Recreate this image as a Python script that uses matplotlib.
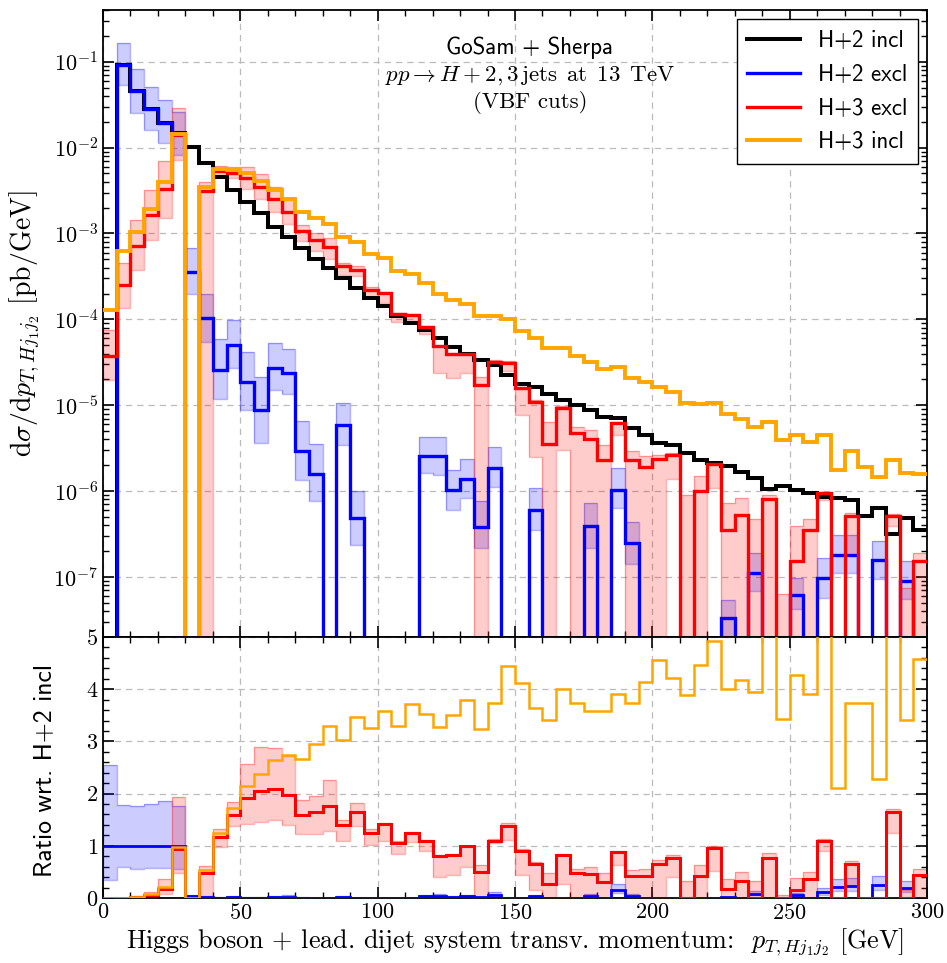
import numpy as np
import matplotlib
matplotlib.use("Agg")
import matplotlib.pyplot as plt
from matplotlib.ticker import MultipleLocator, LogLocator, NullFormatter

plt.rcParams['mathtext.fontset'] = 'cm'
plt.rcParams['font.family'] = 'serif'
plt.rcParams['font.serif'] = ['cmr10']
plt.rcParams['axes.unicode_minus'] = False
plt.rcParams['axes.formatter.use_mathtext'] = True

# 5 GeV bins from 0 to 300 GeV
edges = np.arange(0, 305, 5)

# H+2 inclusive (reference)
h2_incl = [0, 0.0914, 0.046, 0.0282, 0.0192, 0.0148, 0.0102, 6.6e-3, 4.6e-3, 3.2e-3,
           2.33e-3, 1.71e-3, 1.2e-3, 9.1e-4, 6.7e-4, 5.1e-4, 3.95e-4, 3.0e-4, 2.31e-4, 1.77e-4,
           1.44e-4, 1.1e-4, 9.0e-5, 7.5e-5, 6.0e-5, 4.8e-5, 4.0e-5, 3.4e-5, 2.94e-5, 2.25e-5,
           1.76e-5, 1.65e-5, 1.35e-5, 1.15e-5, 1.0e-5, 8.8e-6, 7.3e-6, 7.1e-6, 5.5e-6, 4.5e-6,
           3.6e-6, 3.4e-6, 2.75e-6, 2.33e-6, 2.15e-6, 1.97e-6, 1.65e-6, 1.42e-6, 1.06e-6, 1.14e-6,
           1.04e-6, 9.5e-7, 8.6e-7, 8.4e-7, 7.9e-7, 5.15e-7, 6.4e-7, 3.15e-7, 4.8e-7, 3.5e-7]

# H+2 exclusive with scale band
h2_excl = [0, 0.0914, 0.046, 0.0282, 0.0192, 0.0148, 3.6e-4, 1.03e-4, 2.58e-5, 5.0e-5,
           1.88e-5, 8.8e-6, 2.74e-5, 2.4e-5, 2.9e-6, 1.59e-6, 0, 5.9e-6, 4.85e-7, 0,
           0, 0, 0, 2.58e-6, 2.53e-6, 1.02e-6, 1.38e-6, 3.8e-7, 1.85e-6, 0,
           0, 6.1e-7, 0, 0, 0, 3.9e-7, 0, 1.04e-6, 2.5e-7, 0,
           0, 0, 0, 0, 0, 3.3e-8, 0, 1.11e-7, 0, 0,
           6.2e-8, 0, 9.7e-8, 1.82e-7, 1.82e-7, 0, 1.56e-7, 0, 9.1e-8, 0]
h2_excl_lo = [0, 0.0536, 0.0255, 0.016, 0.0112, 0.0082, 2.0e-4, 5.5e-5, 1.17e-5, 2.7e-5,
              8.8e-6, 3.6e-6, 1.5e-5, 1.35e-5, 1.36e-6, 7.6e-7, 0, 3.46e-6, 2.38e-7, 0,
              0, 0, 0, 1.62e-6, 1.55e-6, 6.1e-7, 8.3e-7, 2.17e-7, 1.13e-6, 0,
              0, 3.55e-7, 0, 0, 0, 2.17e-7, 0, 6.3e-7, 1.43e-7, 0,
              0, 0, 0, 0, 0, 0, 0, 6.8e-8, 0, 0,
              4.2e-8, 0, 5.7e-8, 1.11e-7, 1.11e-7, 0, 9.5e-8, 0, 5.5e-8, 0]
h2_excl_hi = [0, 0.163, 0.0815, 0.051, 0.0358, 0.0262, 6.8e-4, 2.0e-4, 5.85e-5, 9.8e-5,
              4.2e-5, 2.15e-5, 5.3e-5, 4.5e-5, 6.6e-6, 3.55e-6, 0, 1.05e-5, 9.9e-7, 0,
              0, 0, 0, 4.3e-6, 4.3e-6, 1.77e-6, 2.35e-6, 7.6e-7, 3.3e-6, 0,
              0, 1.08e-6, 0, 0, 0, 7.2e-7, 0, 1.85e-6, 4.4e-7, 0,
              0, 0, 0, 0, 0, 5.4e-8, 0, 1.9e-7, 0, 0,
              9.7e-8, 0, 1.66e-7, 3.1e-7, 3.1e-7, 0, 2.64e-7, 0, 1.52e-7, 0]
# ratio of the exclusive sample in the first (empty reference) bin
h2_excl_ratio_bin0 = [1.0, 0.34, 2.55]

# H+3 exclusive with scale band
h3_excl = [3.7e-5, 2.5e-4, 7.1e-4, 1.63e-3, 3.3e-3, 0.0139, 0, 3.1e-3, 5.4e-3, 5.1e-3,
           4.45e-3, 3.5e-3, 2.5e-3, 1.8e-3, 1.07e-3, 8.4e-4, 7.0e-4, 4.2e-4, 3.8e-4, 2.2e-4,
           2.03e-4, 1.16e-4, 1.12e-4, 8.2e-5, 4.85e-5, 4.0e-5, 3.95e-5, 1.72e-5, 3.2e-5, 3.1e-5,
           1.58e-5, 1.08e-5, 3.5e-6, 9.4e-6, 4.7e-6, 4.0e-6, 2.3e-6, 6.2e-6, 2.3e-6, 1.9e-6,
           2.35e-6, 2.6e-6, 0, 9.9e-7, 2.08e-6, 3.5e-7, 5.3e-7, 0, 8.1e-7, 0,
           1.55e-7, 3.5e-7, 9.4e-7, 0, 5.2e-7, 0, 0, 5.2e-7, 0, 1.55e-7]
h3_excl_lo = [1.97e-5, 1.35e-4, 3.8e-4, 8.5e-4, 1.5e-3, 7.2e-3, 0, 0, 4.5e-3, 4.4e-3,
              3.3e-3, 2.5e-3, 1.8e-3, 1.28e-3, 8.2e-4, 6.3e-4, 5.1e-4, 3.3e-4, 3.2e-4, 1.8e-4,
              1.56e-4, 9.3e-5, 9.6e-5, 6.8e-5, 2.4e-5, 2.1e-5, 2.4e-5, 0, 3.1e-5, 2.5e-5,
              7.7e-6, 2.5e-6, 0, 3.0e-6, 0, 0, 0, 4.5e-6, 0, 0,
              0, 1.4e-6, 0, 0, 1.1e-6, 0, 0, 0, 0, 0,
              0, 0, 7.8e-7, 0, 1.8e-7, 0, 0, 3.9e-7, 0, 0]
h3_excl_hi = [7.5e-5, 4.5e-4, 1.44e-3, 3.2e-3, 7.0e-3, 0.0286, 0, 4.0e-3, 6.1e-3, 5.9e-3,
              6.0e-3, 4.96e-3, 3.46e-3, 2.48e-3, 1.26e-3, 1.0e-3, 8.9e-4, 4.5e-4, 4.2e-4, 2.35e-4,
              2.07e-4, 1.2e-4, 1.14e-4, 8.4e-5, 4.95e-5, 4.05e-5, 4.0e-5, 2.15e-5, 3.35e-5, 3.25e-5,
              1.65e-5, 1.15e-5, 6.45e-6, 9.8e-6, 5.65e-6, 5.2e-6, 3.46e-6, 6.45e-6, 2.9e-6, 2.53e-6,
              2.64e-6, 2.8e-6, 9.1e-7, 1.48e-6, 2.15e-6, 7.2e-7, 8.3e-7, 4.7e-7, 9.1e-7, 6.3e-8,
              3.9e-7, 4.7e-7, 9.8e-7, 0, 5.6e-7, 0, 0, 5.4e-7, 7.5e-8, 1.92e-7]

# H+3 inclusive
h3_incl = [1.3e-4, 6.3e-4, 1.03e-3, 1.95e-3, 4.0e-3, 0.0145, 0, 3.5e-3, 5.7e-3, 5.5e-3,
           5.0e-3, 4.05e-3, 3.18e-3, 2.5e-3, 1.79e-3, 1.5e-3, 1.3e-3, 9.1e-4, 8.0e-4, 5.75e-4,
           5.15e-4, 3.63e-4, 3.35e-4, 2.64e-4, 1.97e-4, 1.68e-4, 1.52e-4, 1.1e-4, 1.1e-4, 1.0e-4,
           7.25e-5, 6.0e-5, 4.6e-5, 4.6e-5, 3.73e-5, 3.15e-5, 2.62e-5, 2.78e-5, 2.05e-5, 1.86e-5,
           1.64e-5, 1.43e-5, 1.07e-5, 1.04e-5, 1.06e-5, 7.9e-6, 6.9e-6, 5.6e-6, 6.45e-6, 3.9e-6,
           4.45e-6, 3.72e-6, 4.5e-6, 1.77e-6, 2.95e-6, 1.92e-6, 1.46e-6, 2.28e-6, 1.64e-6, 1.6e-6]

labels = ['H+2 incl', 'H+2 excl', 'H+3 excl', 'H+3 incl']
c_black, c_blue, c_red, c_orange = 'black', '#0000ff', '#ff0000', '#ffa500'

ref = np.array(h2_incl)


def ratio(vals):
    vals = np.asarray(vals, dtype=float)
    out = np.zeros_like(vals)
    np.divide(vals, ref, out=out, where=ref > 0)
    return out


def floor(vals):
    # keep zeros drawable on the log axis
    return np.clip(np.asarray(vals, dtype=float), 1e-12, None)


def band(ax, lo, hi, color, alpha=0.2):
    ax.stairs(hi, edges, baseline=lo, fill=True, facecolor=color, alpha=alpha,
              edgecolor='none', zorder=2)
    ax.stairs(hi, edges, baseline=lo, fill=False, color=color, alpha=0.3,
              lw=1.0, zorder=2)


fig = plt.figure(figsize=(9.47, 9.63), dpi=100)
ax = fig.add_axes([0.1088, 0.3385, 0.8701, 0.6511])
rax = fig.add_axes([0.1088, 0.0675, 0.8701, 0.2710], sharex=ax)

# upper panel: differential cross sections
ax.set_yscale('log')
band(ax, floor(h2_excl_lo), floor(h2_excl_hi), c_blue)
band(ax, floor(h3_excl_lo), floor(h3_excl_hi), c_red)
ax.stairs(floor(h2_incl), edges, baseline=None, color=c_black, lw=2.9, zorder=3, label=labels[0])
ax.stairs(floor(h2_excl), edges, baseline=None, color=c_blue, lw=2.4, zorder=4, label=labels[1])
ax.stairs(floor(h3_excl), edges, baseline=None, color=c_red, lw=2.4, zorder=5, label=labels[2])
ax.stairs(floor(h3_incl), edges, baseline=None, color=c_orange, lw=2.8, zorder=6, label=labels[3])

ax.set_xlim(0, 300)
ax.set_ylim(2e-8, 0.4)
ax.yaxis.set_major_locator(LogLocator(base=10, numticks=12))
ax.yaxis.set_minor_locator(LogLocator(base=10, subs=np.arange(2, 10), numticks=12))
ax.yaxis.set_minor_formatter(NullFormatter())
ax.set_ylabel(r'$\mathrm{d}\sigma/\mathrm{d}p_{T,Hj_1j_2}\ [\mathrm{pb/GeV}]$', fontsize=20)
ax.yaxis.set_label_coords(-0.074, 0.5)

ax.text(0.518, 0.94, 'GoSam + Sherpa', transform=ax.transAxes, ha='center', va='center',
        family='cmss10', fontsize=16.5)
ax.text(0.518, 0.896, r'$pp \to H + 2,3\,\mathrm{jets\ \,at\ \,13\ \,TeV}$', transform=ax.transAxes,
        ha='center', va='center', fontsize=16.5)
ax.text(0.518, 0.852, '(VBF cuts)', transform=ax.transAxes, ha='center', va='center',
        fontsize=16.5)

leg = ax.legend(loc='upper right', bbox_to_anchor=(0.989, 0.985), borderaxespad=0,
                fancybox=False, framealpha=1, edgecolor='black', handlelength=2.3,
                labelspacing=0.52, borderpad=0.45,
                prop={'family': 'cmss10', 'size': 16.5})
leg.get_frame().set_linewidth(1.0)

# lower panel: ratio to H+2 inclusive
r2 = ratio(h2_excl)
r2_lo = ratio(h2_excl_lo)
r2_hi = ratio(h2_excl_hi)
r2[0], r2_lo[0], r2_hi[0] = h2_excl_ratio_bin0
band(rax, r2_lo, r2_hi, c_blue)
band(rax, ratio(h3_excl_lo), ratio(h3_excl_hi), c_red)
rax.stairs(r2, edges, baseline=None, color=c_blue, lw=2.0, zorder=4)
rax.stairs(ratio(h3_excl), edges, baseline=None, color=c_red, lw=2.2, zorder=5)
rax.stairs(ratio(h3_incl), edges, baseline=None, color=c_orange, lw=1.8, zorder=6)

rax.set_ylim(0, 5)
rax.yaxis.set_major_locator(MultipleLocator(1))
rax.yaxis.set_minor_locator(MultipleLocator(0.2))
rax.set_ylabel('Ratio wrt. H+2 incl', family='cmss10', fontsize=18.5)
rax.yaxis.set_label_coords(-0.056, 0.49)
rax.set_xlabel(r'Higgs boson + lead. dijet system transv. momentum:  $p_{T,Hj_1j_2}$ [GeV]',
               fontsize=18.8, labelpad=3)

for a in (ax, rax):
    a.xaxis.set_major_locator(MultipleLocator(50))
    a.xaxis.set_minor_locator(MultipleLocator(10))
    a.tick_params(which='both', direction='in', top=True, right=True, labelsize=16)
    a.tick_params(which='major', length=8, width=1.2)
    a.tick_params(which='minor', length=4, width=1.0)
    a.grid(True, which='major', ls=(0, (5, 4)), color='#bbbbbb', lw=0.9)
    a.set_axisbelow(True)
    for s in a.spines.values():
        s.set_linewidth(1.3)
ax.tick_params(labelbottom=False)

fig.savefig('out.png', dpi=100)
